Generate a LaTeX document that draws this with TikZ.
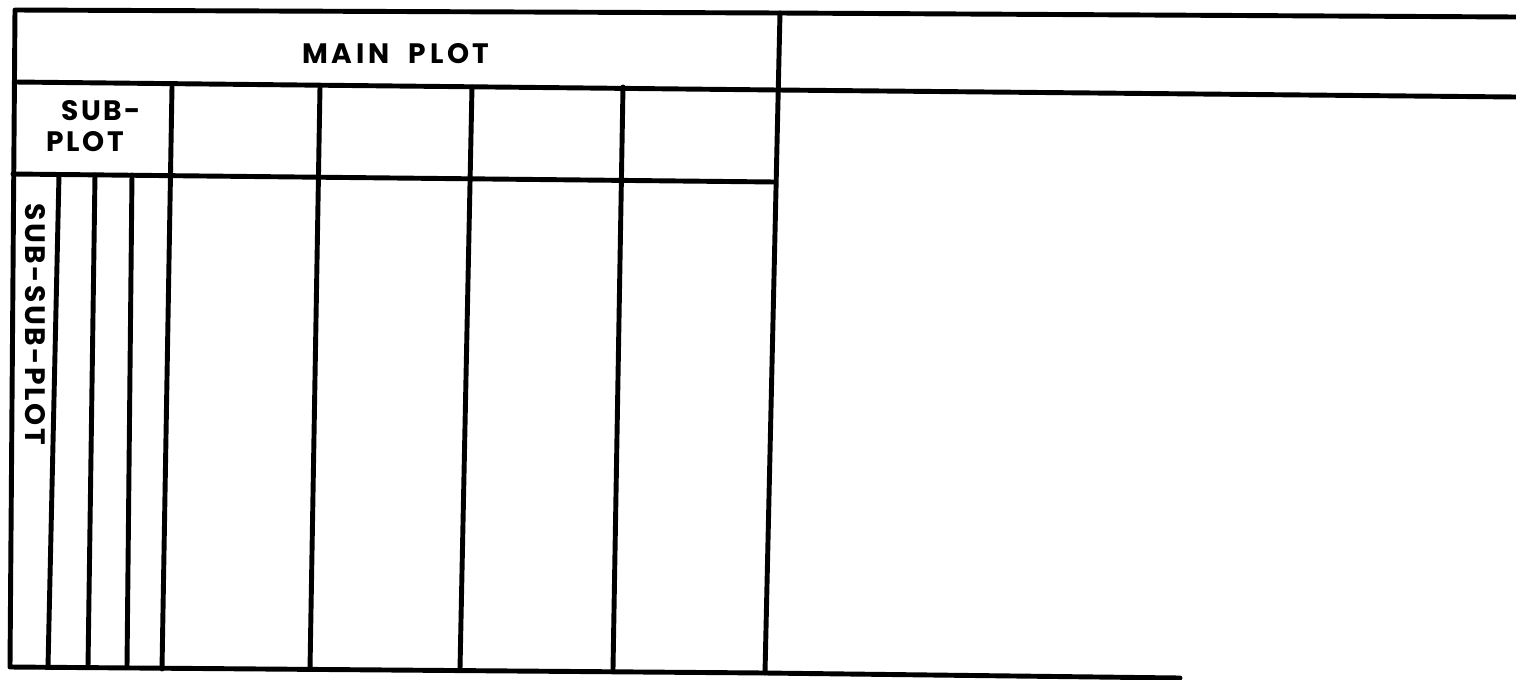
\documentclass[tikz,border=0pt]{standalone}
\usepackage{fontspec}
\setmainfont{Poppins}
\usepackage{tikz}
\tikzset{rule/.style={line width=2.8pt,line cap=round,line join=round},
  head/.style={font=\fontsize{16}{19}\selectfont\bfseries\addfontfeatures{LetterSpace=9},inner sep=0pt},
  wide/.style={head,font=\fontsize{16}{19}\selectfont\bfseries\addfontfeatures{LetterSpace=13}}}

\begin{document}
\begin{tikzpicture}[x=.02cm,y=-.02cm]
\useasboundingbox (0,0) rectangle (1516,680);
% outer frame and rows
\draw[rule] (1516,17) -- (780,13) -- (15,10) -- (10,667) -- (765,673) -- (1180,678);
\draw[rule] (780,13) -- (765,673);
\draw[rule] (15,82) -- (778,90) -- (1516,97);
\draw[rule] (13,174) -- (775,182);
% main columns
\foreach \a/\b in {172/162,320/310,472/460,623/613}{\draw[rule] (\a,87) -- (\b,669);}
% sub-sub columns
\foreach \a/\b in {59/48,95/88,132/127}{\draw[rule] (\a,175) -- (\b,667);}
% labels
\node[wide] (main) at (396,54) {MAIN\hspace{.7em}PLOT};
\node[head] (sub) at (101,111) {SUB-};
\node[head] (plot) at (85,142) {PLOT};
\node[head,rotate=-90] (subsub) at (35,324) {SUB-SUB-PLOT};
\end{tikzpicture}
\end{document}
